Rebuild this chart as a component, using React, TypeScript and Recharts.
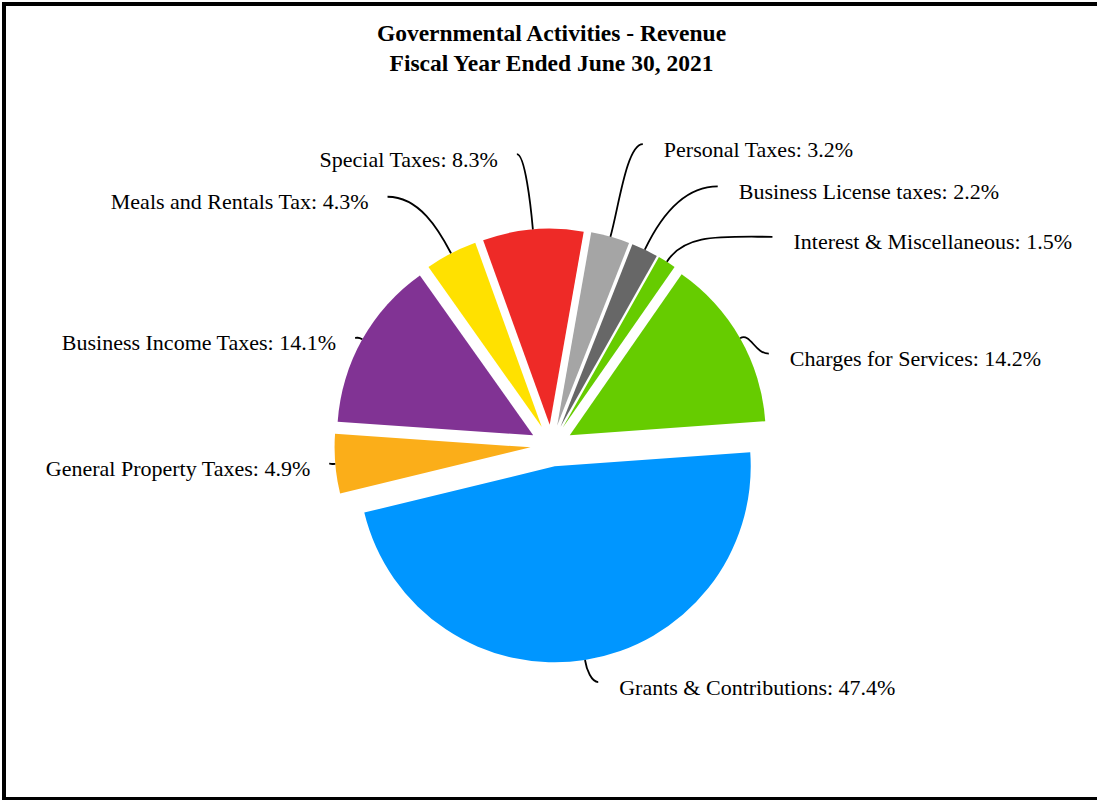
import React from 'react';
import { PieChart, Pie, Cell } from 'recharts';

// ---- data ----
const categories = [
  'Personal Taxes',
  'Business License taxes',
  'Interest & Miscellaneous',
  'Charges for Services',
  'Grants & Contributions',
  'General Property Taxes',
  'Business Income Taxes',
  'Meals and Rentals Tax',
  'Special Taxes',
];
const shares = [3.2, 2.2, 1.5, 14.2, 47.4, 4.9, 14.1, 4.3, 8.3];
const sliceColors = [
  '#A5A5A5',
  '#676767',
  '#66CC00',
  '#66CC00',
  '#0096FF',
  '#FBAE19',
  '#813394',
  '#FFE100',
  '#EE2A27',
];
const titleLines = ['Governmental Activities - Revenue', 'Fiscal Year Ended June 30, 2021'];

// label leader anchors: [distance from pie centre, clockwise angular shift from slice middle (deg)]
const labelAnchors: [number, number][] = [
  [315, 1.1],
  [308, 7.2],
  [304, 14.5],
  [236, 6.7],
  [241, -2.3],
  [223, 0.2],
  [224, -0.6],
  [298, -5.8],
  [293.5, -1.85],
];

// ---- layout ----
const W = 1097;
const H = 800;
const CX = 551.5;
const CY = 445.6;
const R = 196;
const EXPLODE = 21;
const START = 80;
const RAD = Math.PI / 180;
const FONT = '"Liberation Serif", "Times New Roman", serif';

const pieData = categories.map((name, i) => ({ name, value: shares[i] }));

const total = shares.reduce((a, b) => a + b, 0);
let acc = 0;
const explodeOffsets = shares.map((v) => {
  const mid = START - (360 * (acc + v / 2)) / total;
  acc += v;
  return { dx: EXPLODE * Math.cos(mid * RAD), dy: -EXPLODE * Math.sin(mid * RAD) };
});

const renderLabel = (props: any) => {
  const { cx, cy, midAngle, outerRadius, name, value } = props;
  const idx = categories.indexOf(name);
  const [dist, shift] = labelAnchors[idx];
  const pt = (r: number, a: number) => ({
    x: cx + r * Math.cos(-a * RAD),
    y: cy + r * Math.sin(-a * RAD),
  });
  const E = pt(outerRadius + EXPLODE, midAngle);
  const S = pt(dist, midAngle - shift);
  const ux = Math.cos(-midAngle * RAD);
  const uy = Math.sin(-midAngle * RAD);
  const d = Math.hypot(S.x - E.x, S.y - E.y);
  const L = 0.28 * d + 3;
  const c1x = S.x + (E.x - S.x) * 0.5;
  const c1y = S.y;
  const c2x = E.x + ux * L;
  const c2y = E.y + uy * L;
  const right = Math.cos(midAngle * RAD) >= 0;
  const tx = right ? S.x + 21 : S.x - 19;
  const ty = S.y + 12.5;
  return (
    <g key={`lbl-${idx}`}>
      <path
        d={`M${S.x},${S.y} C${c1x},${c1y} ${c2x},${c2y} ${E.x},${E.y}`}
        fill="none"
        stroke="#000"
        strokeWidth={1.8}
      />
      <text
        x={tx}
        y={ty}
        textAnchor={right ? 'start' : 'end'}
        fontFamily={FONT}
        fontSize={22}
        fill="#000"
      >
        {`${name}: ${Number(value).toFixed(1)}%`}
      </text>
    </g>
  );
};

export default function App() {
  return (
    <div
      style={{
        position: 'absolute',
        left: 0,
        top: 0,
        width: W,
        height: H,
        overflow: 'hidden',
        background: '#fff',
      }}
    >
      <PieChart width={W} height={H} margin={{ top: 0, right: 0, bottom: 0, left: 0 }}>
        <Pie
          data={pieData}
          dataKey="value"
          nameKey="name"
          cx={CX}
          cy={CY}
          outerRadius={R}
          startAngle={START}
          endAngle={START - 360}
          stroke="none"
          label={renderLabel}
          labelLine={false}
          isAnimationActive={false}
        >
          {pieData.map((entry, i) => (
            <Cell
              key={entry.name}
              fill={sliceColors[i]}
              transform={`translate(${explodeOffsets[i].dx} ${explodeOffsets[i].dy})`}
            />
          ))}
        </Pie>
      </PieChart>
      <svg
        width={W}
        height={100}
        style={{ position: 'absolute', left: 0, top: 0 }}
      >
        {titleLines.map((t, i) => (
          <text
            key={t}
            x={CX}
            y={41 + i * 30}
            textAnchor="middle"
            fontFamily={FONT}
            fontWeight="bold"
            fontSize={23.5}
            fill="#000"
          >
            {t}
          </text>
        ))}
      </svg>
      <div
        style={{
          position: 'absolute',
          left: 2,
          top: 2,
          width: 1110,
          height: 799,
          border: '4px solid #000',
          boxSizing: 'border-box',
        }}
      />
    </div>
  );
}
